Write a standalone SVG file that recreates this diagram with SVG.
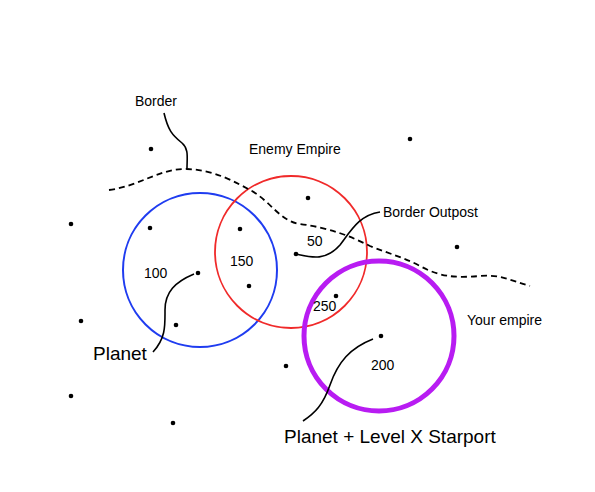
<svg xmlns="http://www.w3.org/2000/svg" width="595" height="492" viewBox="0 0 595 492">
<style>
text{font-family:"Liberation Sans",Arial,sans-serif;fill:#000}
.s{font-size:14px}
.n{font-size:14px}
.b{font-size:19px}
.lead{fill:none;stroke:#000;stroke-width:1.6}
.dot{fill:#000}
</style>
<rect width="595" height="492" fill="#fff"/>
<g id="circles">
<circle id="blue" cx="200" cy="270" r="77" fill="none" stroke="#1f3cf0" stroke-width="2"/>
<circle id="red" cx="291" cy="252" r="76" fill="none" stroke="#f02a2a" stroke-width="1.8"/>
<circle id="purple" cx="379" cy="336" r="75" fill="none" stroke="#b81cf2" stroke-width="5"/>
</g>
<g id="stars">
<circle class="dot" cx="151" cy="149" r="2.3"/>
<circle class="dot" cx="410" cy="139" r="2.3"/>
<circle class="dot" cx="308" cy="198" r="2.3"/>
<circle class="dot" cx="71" cy="224" r="2.3"/>
<circle class="dot" cx="150" cy="228" r="2.3"/>
<circle class="dot" cx="240" cy="229" r="2.3"/>
<circle class="dot" cx="457" cy="247" r="2.3"/>
<circle class="dot" cx="296" cy="254" r="2.3"/>
<circle class="dot" cx="198" cy="273" r="2.3"/>
<circle class="dot" cx="249" cy="286" r="2.3"/>
<circle class="dot" cx="336" cy="296" r="2.3"/>
<circle class="dot" cx="81" cy="321" r="2.3"/>
<circle class="dot" cx="176" cy="325" r="2.3"/>
<circle class="dot" cx="381" cy="336" r="2.3"/>
<circle class="dot" cx="286" cy="366" r="2.3"/>
<circle class="dot" cx="71" cy="396" r="2.3"/>
<circle class="dot" cx="173" cy="423" r="2.3"/>
</g>
<g id="connectors">
<path id="border" d="M109,190 C140,186 160,168 187,169 C215,170 235,182 252,191 C272,203 280,221 300,224 C330,228 350,236 370,246 C390,254 405,258 420,266 C440,277 455,278 480,276 C500,274 512,281 530,286" fill="none" stroke="#000" stroke-width="1.8" stroke-dasharray="6,4"/>
<path class="lead" d="M164,113 C168,130 172,135 182,143 C189,149 187,158 187,168"/>
<path class="lead" d="M296,254 C310,257 325,262 340,245 C352,229 360,215 380,212"/>
<path class="lead" d="M194,274 C175,282 165,292 165,310 C165,325 166,338 153,352"/>
<path class="lead" d="M373,339 C350,348 338,362 330,385 C323,405 315,413 303,421"/>
</g>
<g id="labels">
<text class="s" x="135" y="106">Border</text>
<text class="s" x="249" y="154">Enemy Empire</text>
<text class="s" x="383" y="217">Border Outpost</text>
<text class="s" x="467" y="325">Your empire</text>
<text class="b" x="93" y="360">Planet</text>
<text class="b" x="284" y="443">Planet + Level X Starport</text>
<text class="n" x="144" y="278">100</text>
<text class="n" x="230" y="266">150</text>
<text class="n" x="307" y="246">50</text>
<text class="n" x="313" y="311">250</text>
<text class="n" x="371" y="370">200</text>
</g>
</svg>
